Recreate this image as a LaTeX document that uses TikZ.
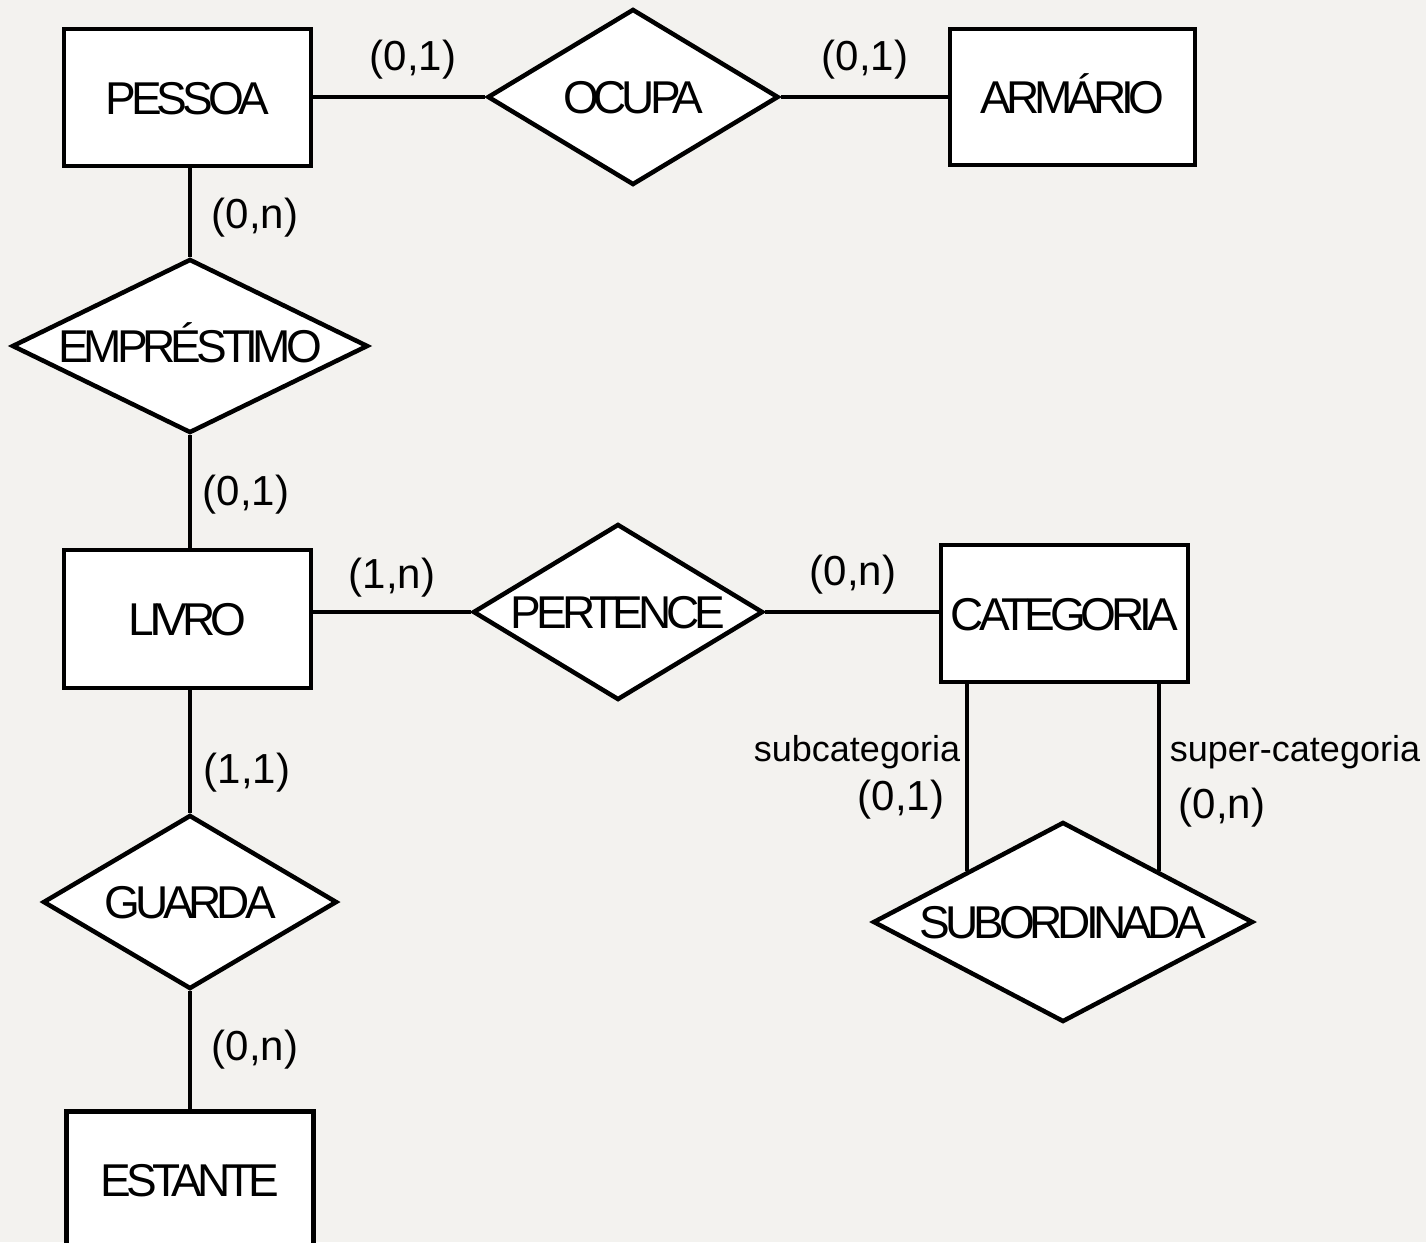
\documentclass[tikz,border=0pt]{standalone}
\usepackage{fontspec}
\setmainfont{Liberation Sans}
\newfontfamily\tightfont[LetterSpace=-11]{Liberation Sans}
\usetikzlibrary{shapes.geometric}
\definecolor{bgc}{RGB}{243,242,239}
\tikzset{
  ent/.style={draw, fill=white, line width=4.5pt, minimum width=247pt, minimum height=137pt,
    inner sep=0pt, font={\tightfont\fontsize{46}{46}\selectfont}, text height=33pt, text depth=0pt},
  rel/.style={draw, fill=white, diamond, line width=4.5pt, inner sep=0pt},
  reltxt/.style={font={\tightfont\fontsize{46}{46}\selectfont}, text height=33pt, text depth=0pt, inner sep=0pt},
  card/.style={font={\fontsize{42}{42}\selectfont}, inner sep=0pt},
  role/.style={font={\fontsize{36}{36}\selectfont}, inner sep=0pt},
  conn/.style={line width=4.5pt},
}
\begin{document}
\begin{tikzpicture}[x=1pt,y=-1pt]
\fill[bgc] (0,0) rectangle (1426,1242);
\clip (0,0) rectangle (1426,1242);

% entities
\node[ent] (pessoa) at (187.5,97.5) {PESSOA};
\node[ent, minimum width=245pt, minimum height=136pt] (armario) at (1072.5,97) {ARMÁRIO};
\node[ent, minimum height=138pt] (livro) at (187.5,619) {LIVRO};
\node[ent] (categoria) at (1064.5,613.5) {CATEGORIA};
\node[ent] (estante) at (190,1180) {ESTANTE};

% relationships
\node[rel, minimum width=291pt, minimum height=176pt, label={[reltxt]center:OCUPA}] (ocupa) at (633,97) {};
\node[rel, minimum width=356pt, minimum height=174pt, label={[reltxt]center:EMPRÉSTIMO}] (emprestimo) at (190,346) {};
\node[rel, minimum width=290pt, minimum height=176pt, label={[reltxt]center:PERTENCE}] (pertence) at (618,612) {};
\node[rel, minimum width=294pt, minimum height=174pt, label={[reltxt]center:GUARDA}] (guarda) at (190,902) {};
\node[rel, minimum width=380pt, minimum height=200pt, label={[reltxt]center:SUBORDINADA}] (subordinada) at (1063,922) {};

% connectors
\draw[conn] (pessoa.east |- ocupa.west) -- (ocupa.west);
\draw[conn] (ocupa.east) -- (ocupa.east -| armario.west);
\draw[conn] (pessoa.south -| emprestimo.north) -- (emprestimo.north);
\draw[conn] (emprestimo.south) -- (emprestimo.south |- livro.north);
\draw[conn] (livro.east |- pertence.west) -- (pertence.west);
\draw[conn] (pertence.east) -- (pertence.east -| categoria.west);
\draw[conn] (livro.south -| guarda.north) -- (guarda.north);
\draw[conn] (guarda.south) -- (guarda.south |- estante.north);
\draw[conn] (subordinada.north west |- categoria.south) -- (subordinada.north west);
\draw[conn] (subordinada.north east |- categoria.south) -- (subordinada.north east);

% cardinalities
\node[card] (c1) at (413,60) {(0,1)};
\node[card] (c2) at (865,60) {(0,1)};
\node[card] (c3) at (255,218) {(0,n)};
\node[card] (c4) at (246,495) {(0,1)};
\node[card] (c5) at (392,578) {(1,n)};
\node[card] (c6) at (853,575) {(0,n)};
\node[card] (c7) at (247,773) {(1,1)};
\node[card] (c8) at (255,1050) {(0,n)};
\node[card] (c9) at (901,800) {(0,1)};
\node[card] (c10) at (1222,808) {(0,n)};

% roles
\node[role] (r1) at (857,752) {subcategoria};
\node[role] (r2) at (1295,752) {super-categoria};
\end{tikzpicture}
\end{document}
